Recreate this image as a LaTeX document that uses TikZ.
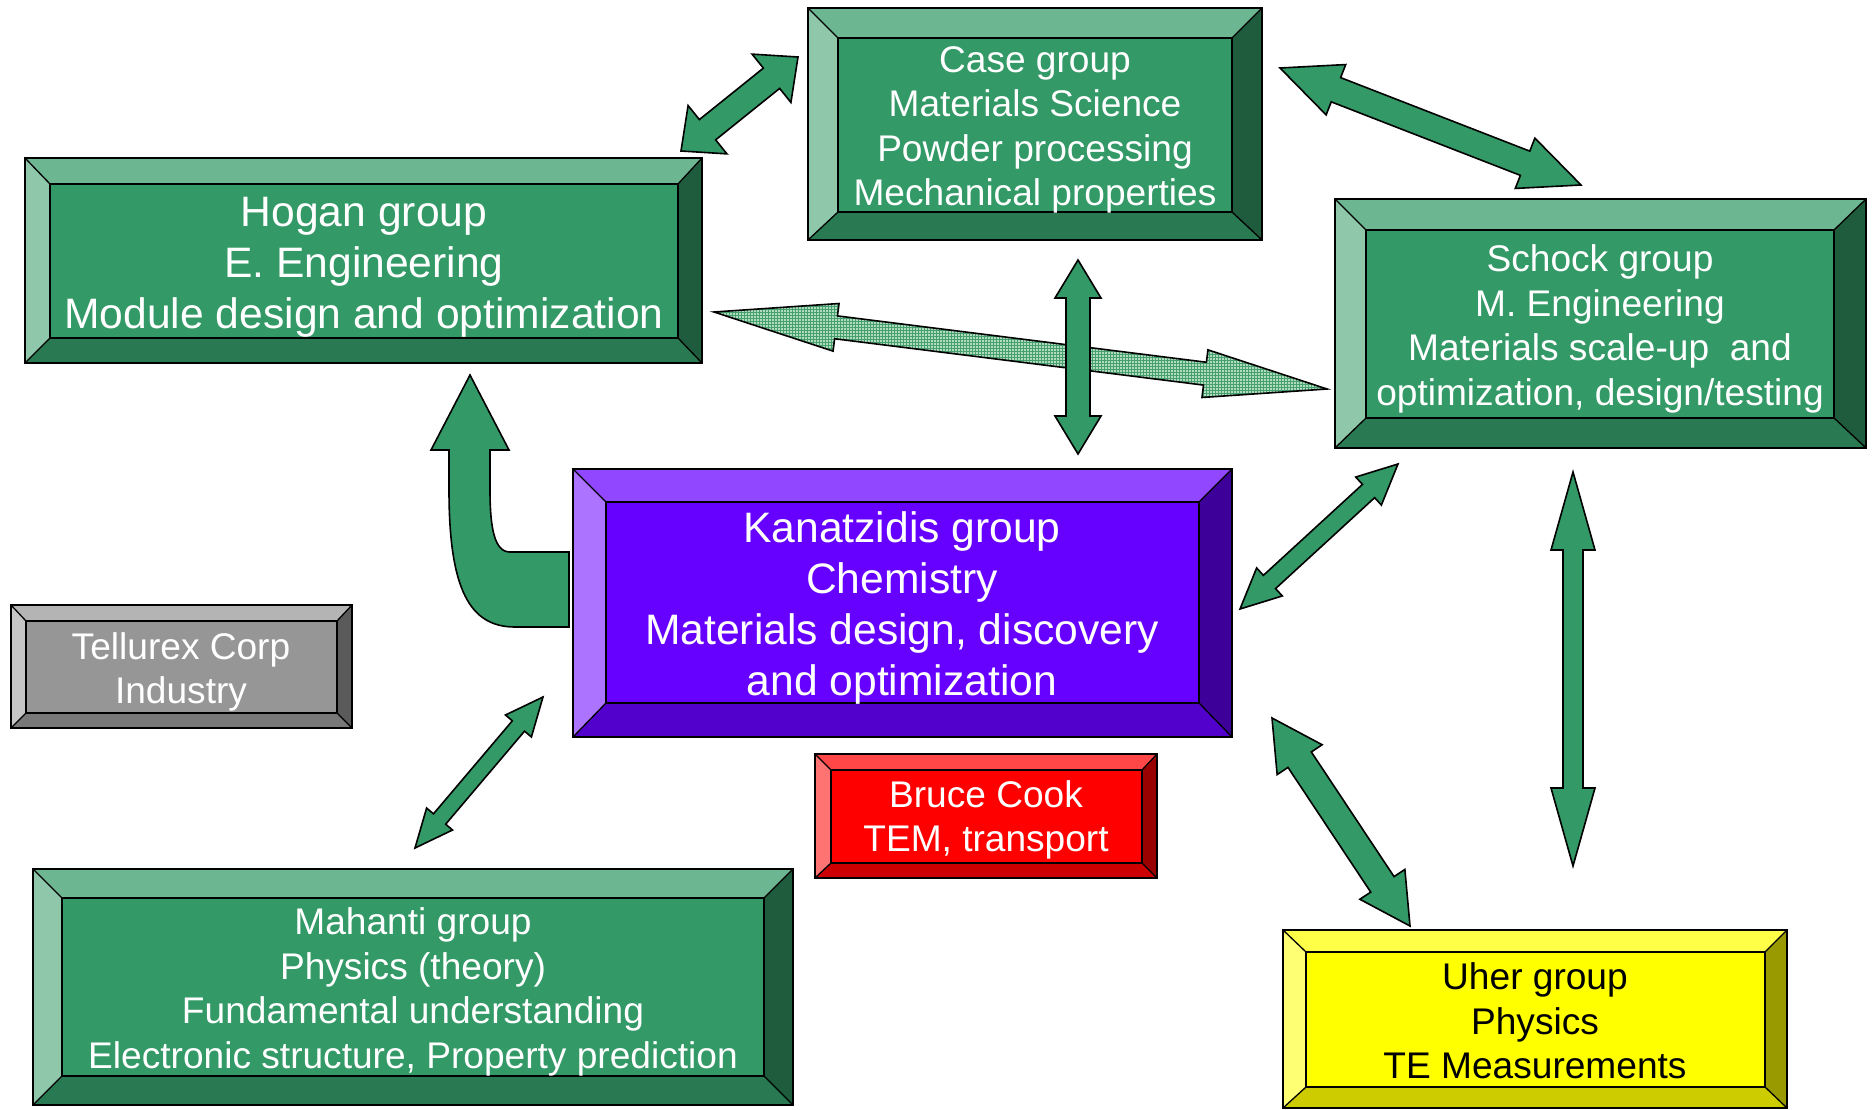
\documentclass[tikz,border=0pt]{standalone}
\usepackage{fontspec}
\setmainfont{Liberation Sans}
\usetikzlibrary{calc,patterns}
\definecolor{grn}{RGB}{51,153,102}
\definecolor{prp}{RGB}{102,0,255}
\definecolor{rd}{RGB}{255,0,0}
\definecolor{ylw}{RGB}{255,255,0}
\definecolor{gry}{RGB}{150,150,150}
\definecolor{hatchbg}{RGB}{178,220,192}
\definecolor{hatchln}{RGB}{70,160,110}
\tikzset{
  bevline/.style={draw=black, line width=1.3pt},
  outerline/.style={draw=black, line width=2.2pt},
  blockarrow/.style={fill=grn, draw=black, line width=1.6pt, line join=miter},
  lbl/.style={align=center, text=white, inner sep=0pt},
  bigfont/.style={font=\fontsize{42.6}{51}\selectfont},
  smallfont/.style={font=\fontsize{37.1}{44.5}\selectfont},
}
% bevelled box: outer x1 y1 x2 y2, inner x1 y1 x2 y2, base colour
\newcommand\bbox[9]{%
  \fill[#9!72!white] (#1,#2) -- (#3,#2) -- (#7,#6) -- (#5,#6) -- cycle;
  \fill[#9!55!white] (#1,#2) -- (#5,#6) -- (#5,#8) -- (#1,#4) -- cycle;
  \fill[#9!60!black] (#3,#2) -- (#3,#4) -- (#7,#8) -- (#7,#6) -- cycle;
  \fill[#9!80!black] (#1,#4) -- (#3,#4) -- (#7,#8) -- (#5,#8) -- cycle;
  \fill[#9] (#5,#6) rectangle (#7,#8);
  \draw[bevline] (#1,#2) -- (#5,#6) (#3,#2) -- (#7,#6) (#3,#4) -- (#7,#8) (#1,#4) -- (#5,#8);
  \draw[bevline] (#5,#6) rectangle (#7,#8);
  \draw[outerline] (#1,#2) rectangle (#3,#4);
}
% double block arrow: prefix, A, B, shaft half width, head half width, head length, style
\newcommand\dblarrow[7]{%
  \coordinate (#1-ha) at ($(#2)!#6!(#3)$);
  \coordinate (#1-hb) at ($(#3)!#6!(#2)$);
  \path[#7] (#2) -- ($(#1-ha)!#5!90:(#3)$) -- ($(#1-ha)!#4!90:(#3)$)
    -- ($(#1-hb)!#4!-90:(#2)$) -- ($(#1-hb)!#5!-90:(#2)$) -- (#3)
    -- ($(#1-hb)!#5!90:(#2)$) -- ($(#1-hb)!#4!90:(#2)$)
    -- ($(#1-ha)!#4!-90:(#3)$) -- ($(#1-ha)!#5!-90:(#3)$) -- cycle;
}
\begin{document}
\begin{tikzpicture}[x=1pt,y=-1pt]
\useasboundingbox[fill=white] (0,0) rectangle (1874,1110);

% ---------- boxes ----------
\bbox{808}{8}{1262}{240}{838}{38}{1232}{212}{grn}
\node[lbl,smallfont] (case) at (1035,130) {Case group\\Materials Science\\Powder processing\\Mechanical properties};

\bbox{25}{158}{702}{363}{50}{184}{678}{338}{grn}
\node[lbl,bigfont] (hogan) at (364,267) {Hogan group\\E. Engineering\\Module design and optimization};

\bbox{1335}{199}{1866}{448}{1366}{230}{1834}{418}{grn}
\node[lbl,smallfont] (schock) at (1600,329) {Schock group\\M. Engineering\\Materials scale-up\ \ and\\optimization, design/testing};

\bbox{573}{469}{1232}{737}{606}{502}{1199}{703}{prp}
\node[lbl,bigfont] (kanatzidis) at (902,608) {Kanatzidis group\\Chemistry\\Materials design, discovery\\and optimization};

\bbox{11}{605}{352}{728}{26}{621}{337}{713}{gry}
\node[lbl,smallfont] (tellurex) at (181,672) {Tellurex Corp\\Industry};

\bbox{815}{754}{1157}{878}{831}{770}{1142}{863}{rd}
\node[lbl,smallfont] (cook) at (986,820) {Bruce Cook\\TEM, transport};

\bbox{33}{869}{793}{1105}{62}{898}{764}{1076}{grn}
\node[lbl,smallfont] (mahanti) at (413,992) {Mahanti group\\Physics (theory)\\Fundamental understanding\\Electronic structure, Property prediction};

\bbox{1283}{930}{1787}{1108}{1306}{952}{1765}{1087}{ylw}
\node[lbl,smallfont,text=black] (uher) at (1535,1021) {Uher group\\Physics\\TE Measurements};

% ---------- arrow end points ----------
\coordinate (hs1) at (714,312);   \coordinate (hs2) at (1327,389);
\coordinate (hc1) at (681,151);   \coordinate (hc2) at (798,57);
\coordinate (cs1) at (1280,68);   \coordinate (cs2) at (1581,185);
\coordinate (ck1) at (1078,260);  \coordinate (ck2) at (1078,454);
\coordinate (mk1) at (415,848);   \coordinate (mk2) at (543,697);
\coordinate (ks1) at (1240,609);  \coordinate (ks2) at (1398,464);
\coordinate (ku1) at (1272,718);  \coordinate (ku2) at (1410,926);
\coordinate (su1) at (1573,472);  \coordinate (su2) at (1573,866);

% ---------- arrows ----------
\dblarrow{hs}{hs1}{hs2}{11.5pt}{24pt}{123pt}{fill=hatchbg}
\dblarrow{hsp}{hs1}{hs2}{11.5pt}{24pt}{123pt}{pattern=grid, pattern color=hatchln}
\dblarrow{hso}{hs1}{hs2}{11.5pt}{24pt}{123pt}{draw=black, line width=1.6pt, line join=miter}

\dblarrow{hc}{hc1}{hc2}{13pt}{31pt}{34pt}{blockarrow}
\dblarrow{cs}{cs1}{cs2}{13pt}{27pt}{60pt}{blockarrow}
\dblarrow{ck}{ck1}{ck2}{12pt}{23pt}{38pt}{blockarrow}
\dblarrow{mk}{mk1}{mk2}{8pt}{17pt}{38pt}{blockarrow}
\dblarrow{ks}{ks1}{ks2}{9pt}{19pt}{40pt}{blockarrow}
\dblarrow{ku}{ku1}{ku2}{14pt}{27pt}{50pt}{blockarrow}
\dblarrow{su}{su1}{su2}{10pt}{22pt}{78pt}{blockarrow}

% bent arrow from Kanatzidis to Hogan
\coordinate (bentend) at (470,375);
\draw[blockarrow] (569,552) -- (510,552) .. controls (495,552) and (490,530) .. (490,490)
  -- (490,450) -- (509,450) -- (bentend) -- (431,450) -- (449,450) -- (449,490)
  .. controls (449,590) and (470,627) .. (515,627) -- (569,627) -- cycle;
\end{tikzpicture}
\end{document}
